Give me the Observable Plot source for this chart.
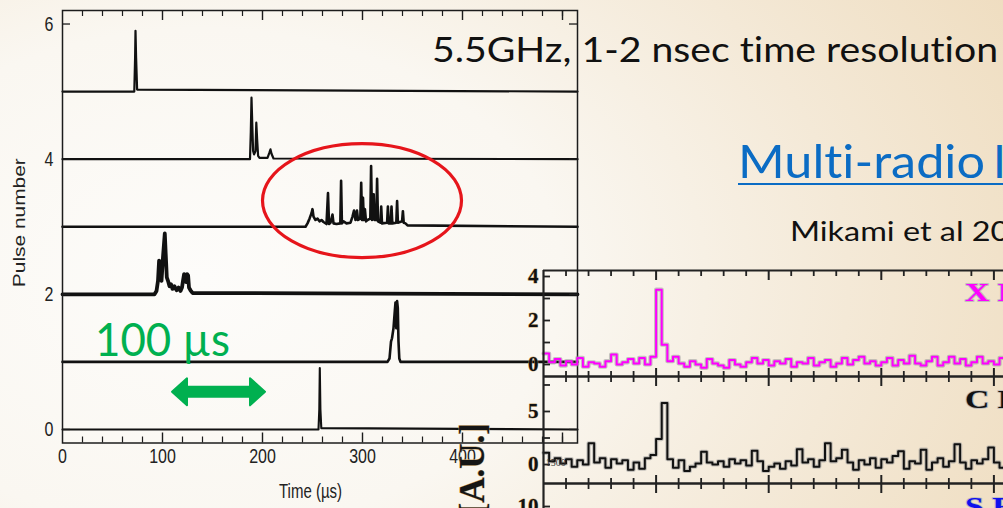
<!DOCTYPE html>
<html><head><meta charset="utf-8">
<script src="https://cdn.jsdelivr.net/npm/d3@7"></script>
<script src="https://cdn.jsdelivr.net/npm/@observablehq/plot@0.6"></script>
<style>
html,body{margin:0;padding:0;width:1003px;height:508px;overflow:hidden;}
body{position:relative;background:radial-gradient(ellipse 95% 130% at 20% 55%, #fdfcfa 0%, #faf7f1 38%, #f4e9d7 68%, #eedbbc 100%);}
.layer{position:absolute;left:0;top:0;}
#ov text{font-variant-ligatures:none;font-feature-settings:"liga" 0, "clig" 0;}
</style></head><body>
<div id="c1" class="layer"></div>
<div id="p1" class="layer" style="left:500px;top:265px"></div>
<div id="p2" class="layer" style="left:500px;top:371px"></div>
<div id="p3" class="layer" style="left:500px;top:478px"></div>
<svg id="ov" class="layer" width="1003" height="508"></svg>
<script>
// ---------------- DATA: left chart (pulse traces, offsets above each baseline) ----------------
const pulseNumbers = [5, 4, 3, 2, 1, 0];
const trace5 = [[0,0],[71.8,0],[72.6,0.5],[73.0,0.9],[73.6,0.5],[74.6,0.03],[515,0]];
const trace4 = [[0,0],[187.5,0],[188.3,0.4],[189,0.91],[189.8,0.5],[190.6,0.12],[191.6,0.07],[193,0.12],[193.8,0.54],[194.6,0.3],[195.6,0.05],[197,0.02],[205,0.02],[207,0.1],[208,0.145],[209,0.08],[211,0.01],[515,0]];
const trace3 = [[0,0],[243,0],[245,0.05],[247,0.12],[249,0.2],[250,0.26],[251,0.15],[253,0.1],[255,0.12],[257,0.08],[259,0.1],[261,0.07],[264,0.04],[265.5,0.5],[266.5,0.04],[268,0.06],[270,0.18],[271,0.05],[274,0.04],[277.8,0.05],[278.6,0.68],[279.4,0.05],[281,0.08],[284,0.05],[288,0.06],[290,0.15],[291.5,0.24],[293,0.1],[294.5,0.24],[295.5,0.1],[297.8,0.12],[298.7,0.65],[299.5,0.1],[300.5,0.43],[301.3,0.1],[302.4,0.26],[303.5,0.08],[305,0.1],[307.8,0.12],[308.6,0.9],[309.5,0.1],[311.2,0.48],[312,0.1],[313.8,0.1],[314.6,0.71],[315.5,0.08],[317.9,0.06],[318.7,0.3],[319.5,0.05],[324.6,0.06],[325.4,0.3],[326.2,0.05],[328.2,0.05],[329,0.3],[329.8,0.05],[333.8,0.06],[334.6,0.38],[335.4,0.06],[339.6,0.08],[340.4,0.23],[341.2,0.06],[343,0.05],[345,0.02],[515,0]];
const trace2 = [[0,0],[92,0],[94,0.05],[95.5,0.2],[96.6,0.5],[97.5,0.25],[99,0.2],[100.5,0.55],[102.3,0.9],[103.2,0.6],[104.3,0.25],[105.5,0.2],[107,0.12],[108.5,0.15],[110,0.08],[112,0.12],[114,0.06],[116,0.1],[118,0.05],[119.5,0.1],[120.5,0.2],[121.6,0.3],[123.6,0.18],[124.5,0.3],[125.6,0.28],[126.5,0.1],[128,0.06],[130,0.02],[515,0]];
const trace1 = [[0,0],[325,0],[327,0.05],[328.5,0.3],[329.5,0.35],[331,0.5],[332.3,0.75],[333,0.88],[333.8,0.5],[334.6,0.9],[335.3,0.8],[336,0.3],[336.8,0.05],[338,0],[515,0]];
const trace0 = [[0,0],[256,0],[256.8,0.3],[257.3,0.91],[257.9,0.3],[258.8,0.02],[515,0]];
const traces = [trace5, trace4, trace3, trace2, trace1, trace0];
const xTickLabels1 = [0, 100, 200, 300, 400];
const xMajor1 = [100, 200, 300, 400, 500];
const xMinor1 = [20,40,60,80,120,140,160,180,220,240,260,280,320,340,360,380,420,440,460,480,500];
const yTickLabels1 = [0, 2, 4, 6];
const xLabel1 = "Time (µs)";
const yLabel1 = "Pulse number";
const ellipseCenter = [300, 3.38];      // µs, pulse units
const arrowSpan = [110, 203, 0.55];     // µs from, µs to, pulse level

// ---------------- DATA: right chart (multi-radio light curves) ----------------
const step2 = 0.25;
const xBand = [0.5,0.1,0.25,-0.05,0.15,0.0,0.3,-0.1,0.1,0.05,-0.1,0.15,0.45,0.0,0.1,0.25,0.05,0.3,0.0,0.35,3.4,0.9,0.15,0.35,0.05,-0.1,0.15,0.0,-0.15,0.25,0.05,-0.05,-0.15,0.2,0.0,-0.1,0.1,0.3,0.05,0.2,-0.05,0.15,0.05,0.25,-0.1,0.1,0.05,0.3,-0.05,0.1,0.2,-0.1,0.05,0.3,0.0,0.2,0.35,0.05,0.15,-0.05,0.1,0.3,-0.05,0.2,0.05,0.4,0.05,-0.05,0.15,0.35,-0.05,0.1,0.35,0.05,0.25,-0.05,0.1,0.35,0.05,0.15,0.0,0.3,0.1];
const cBand = [1.1,0.3,0.6,0.1,0.5,-0.2,0.4,0.0,2.0,0.2,0.6,-0.3,0.5,0.1,0.4,-0.5,0.2,-0.4,0.6,0.9,2.4,5.8,0.5,-0.3,0.4,-0.6,-0.2,0.1,1.2,0.2,0.0,0.3,-0.2,0.5,0.1,0.4,-0.1,1.3,0.3,-0.6,-0.2,0.1,-0.4,0.3,-0.1,1.45,0.2,0.5,-0.2,0.4,2.0,0.3,0.6,1.4,0.2,-0.5,0.4,0.0,0.6,-0.3,0.5,0.2,0.8,1.25,-0.4,0.3,0.1,1.4,-0.5,0.2,0.6,-0.2,0.3,1.9,0.2,-0.4,0.4,0.1,0.5,1.6,0.2,-0.3,0.4];
const bandNames = ["X Band", "C Band", "S Band"];
const bandColors = ["#ff00ff", "#111111", "#1010ee"];
const x2Major = [5, 10, 15, 20];
const x2Minor = [1,2,3,4,6,7,8,9,11,12,13,14,16,17,18,19];
const yTicks2 = [[0,1,2,3,4],[0,2.5,5,7.5],[5,7.5,10]];
const yLabels2 = [[0,2,4],[0,5],[10]];
const yLabel2 = "[A.U.]";
const smallNote = "1500";

// ---------------- slide texts ----------------
const headline = "5.5GHz, 1-2 nsec time resolution";
const linkTitle = "Multi-radio";
const linkTitleRest = "I";
const citation = "Mikami et al 2016";
const scaleNote = "100 µs";

// =============== LEFT CHART ===============
const FONT = "'Liberation Sans', Arial, Helvetica, sans-serif";
const yDom1 = [-0.2, 6.2];
const k1 = (yDom1[1] - yDom1[0]) / 432.5; // units per pixel
const ink = "#1c1c1c";

function ellipseMark(index, scales) {
  const e = document.createElementNS("http://www.w3.org/2000/svg", "ellipse");
  e.setAttribute("cx", scales.x(ellipseCenter[0]));
  e.setAttribute("cy", scales.y(ellipseCenter[1]));
  e.setAttribute("rx", 99.5);
  e.setAttribute("ry", 57);
  e.setAttribute("fill", "none");
  e.setAttribute("stroke", "#e6151b");
  e.setAttribute("stroke-width", 3.2);
  return e;
}
function arrowMark(index, scales) {
  const x1 = scales.x(arrowSpan[0]), x2 = scales.x(arrowSpan[1]), cy = scales.y(arrowSpan[2]);
  const h = 15, H = 13.5, s = 5;
  const d = `M${x1},${cy}L${x1+h},${cy-H}L${x1+h},${cy-s}L${x2-h},${cy-s}L${x2-h},${cy-H}L${x2},${cy}L${x2-h},${cy+H}L${x2-h},${cy+s}L${x1+h},${cy+s}L${x1+h},${cy+H}Z`;
  const p = document.createElementNS("http://www.w3.org/2000/svg", "path");
  p.setAttribute("d", d);
  p.setAttribute("fill", "#00b050");
  p.setAttribute("stroke", "#00b050");
  p.setAttribute("stroke-width", 2);
  p.setAttribute("stroke-linejoin", "round");
  return p;
}

const widths1 = [2.2, 2.2, 2.6, 3.8, 2.6, 2.1];
const lineMarks1 = traces.map((tr, i) => Plot.line(tr, {
  x: d => d[0], y: d => pulseNumbers[i] + d[1], stroke: "#111", strokeWidth: widths1[i]
}));

const chart1 = Plot.plot({
  width: 600, height: 508,
  marginLeft: 62, marginRight: 23, marginTop: 10, marginBottom: 65.5,
  x: {domain: [0, 515], axis: null},
  y: {domain: yDom1, axis: null},
  style: `background: transparent; max-width: none; overflow: visible; font-family: ${FONT};`,
  marks: [
    ...lineMarks1,
    Plot.frame({stroke: ink, strokeWidth: 1.5}),
    Plot.ruleX(xMinor1, {y1: yDom1[1], y2: yDom1[1] - 6 * k1, stroke: ink, strokeWidth: 1.2}),
    Plot.ruleX(xMajor1, {y1: yDom1[1], y2: yDom1[1] - 10 * k1, stroke: ink, strokeWidth: 1.4}),
    Plot.ruleX(xMinor1, {y1: yDom1[0], y2: yDom1[0] + 6 * k1, stroke: ink, strokeWidth: 1.2}),
    Plot.ruleX(xMajor1, {y1: yDom1[0], y2: yDom1[0] + 10 * k1, stroke: ink, strokeWidth: 1.4}),
    Plot.ruleY(yTickLabels1, {x1: 0, x2: 8, stroke: ink, strokeWidth: 1.3}),
    Plot.ruleY(yTickLabels1, {x1: 507, x2: 515, stroke: ink, strokeWidth: 1.3}),
    Plot.text(xTickLabels1, {x: d => d, text: d => String(d), frameAnchor: "bottom", dy: 19.5, fontSize: 16, fill: "#222", ariaDescription: "stretch-v"}),
    Plot.text(yTickLabels1, {y: d => d, text: d => String(d), frameAnchor: "left", dx: -9, textAnchor: "end", fontSize: 16, fill: "#222", ariaDescription: "stretch-v"}),
    Plot.text([xLabel1], {x: 248, text: d => d, frameAnchor: "bottom", dy: 54.5, fontSize: 15, fill: "#222", ariaDescription: "stretch-v"}),
    Plot.text([yLabel1], {y: 3.06, text: d => d, frameAnchor: "left", dx: -43, rotate: -90, textAnchor: "middle", fontSize: 16, fill: "#222", ariaDescription: "stretch-len"}),
    ellipseMark,
    arrowMark
  ]
});
document.getElementById("c1").appendChild(chart1);
chart1.querySelectorAll('[aria-description="stretch-v"] text').forEach(t => {
  const tr = t.getAttribute("transform");
  if (tr) t.setAttribute("transform", tr + " scale(1,1.3)");
  else {
    const x = +t.getAttribute("x") || 0, y = +t.getAttribute("y") || 0;
    t.setAttribute("transform", `translate(${x},${y}) scale(1,1.3) translate(${-x},${-y})`);
  }
});
chart1.querySelectorAll('[aria-description="stretch-len"] text').forEach(t => {
  t.setAttribute("textLength", 129);
  t.setAttribute("lengthAdjust", "spacingAndGlyphs");
});

// =============== RIGHT CHART (three stacked panels) ===============
const SERIF = "'Liberation Serif', 'DejaVu Serif', Times, serif";
const xDom2 = [0, 460 / 22.52];
const kx2 = (xDom2[1] - xDom2[0]) / 460;
const panelDefs = [
  {el: "p1", yDom: [-0.545, 4.273], h: 116, series: xBand, color: bandColors[0], ticks: yTicks2[0], labels: yLabels2[0], bottom: true},
  {el: "p2", yDom: [-1.79, 8.3], h: 117, series: cBand, color: bandColors[1], ticks: yTicks2[1], labels: yLabels2[1], bottom: true, note: true},
  {el: "p3", yDom: [2.08, 12.17], h: 117, series: null, color: bandColors[2], ticks: yTicks2[2], labels: yLabels2[2], bottom: false}
];
panelDefs.forEach(pd => {
  const ky = (pd.yDom[1] - pd.yDom[0]) / (pd.h - 10);
  const [y0, y1] = pd.yDom;
  const marks = [];
  if (pd.series) {
    marks.push(Plot.line(pd.series, {x: (d, i) => i * step2, y: d => d, curve: "step-after", stroke: "#9a9a9a", strokeOpacity: 0.55, strokeWidth: 4.2}));
    marks.push(Plot.line(pd.series, {x: (d, i) => i * step2, y: d => d, curve: "step-after", stroke: pd.color, strokeWidth: 2}));
  }
  marks.push(
    Plot.ruleX([0], {stroke: "#222", strokeWidth: 2.2}),
    Plot.ruleY([y1], {stroke: "#222", strokeWidth: 2.2}),
    Plot.ruleX(x2Minor, {y1: y1, y2: y1 - 6 * ky, stroke: "#222", strokeWidth: 1.8}),
    Plot.ruleX(x2Major, {y1: y1, y2: y1 - 10 * ky, stroke: "#222", strokeWidth: 2}),
    Plot.ruleY(pd.ticks, {x1: 0, x2: 7 * kx2, stroke: "#222", strokeWidth: 1.8}),
    Plot.text(pd.labels, {y: d => d, text: d => String(d), frameAnchor: "left", dx: -5, textAnchor: "end", fontSize: 21, fontWeight: "bold", fontFamily: SERIF, fill: "#111", stroke: "#c9a46a", strokeWidth: 0.8, paintOrder: "stroke"})
  );
  if (pd.bottom) {
    marks.push(
      Plot.ruleY([y0], {stroke: "#222", strokeWidth: 2.2}),
      Plot.ruleX(x2Minor, {y1: y0, y2: y0 + 5 * ky, stroke: "#222", strokeWidth: 1.8}),
      Plot.ruleX(x2Major, {y1: y0, y2: y0 + 8 * ky, stroke: "#222", strokeWidth: 2})
    );
  }
  if (pd.note) {
    marks.push(Plot.text([smallNote], {x: 0.1, y: 0.2, text: d => d, textAnchor: "start", fontSize: 10, fill: "#333"}));
  }
  const svg = Plot.plot({
    width: 503, height: pd.h,
    marginLeft: 43, marginRight: 0, marginTop: 5, marginBottom: 5,
    x: {domain: xDom2, axis: null},
    y: {domain: pd.yDom, axis: null},
    style: `background: transparent; max-width: none; overflow: visible; font-family: ${SERIF};`,
    marks
  });
  document.getElementById(pd.el).appendChild(svg);
});

// =============== SLIDE TEXT OVERLAY ===============
const ov = d3.select("#ov");
const SANS = "Lato, 'Open Sans', 'Noto Sans', sans-serif";
ov.append("text").attr("x", 432).attr("y", 62).attr("font-family", SANS).attr("font-size", 34)
  .attr("fill", "#111").attr("textLength", 566).attr("lengthAdjust", "spacingAndGlyphs").text(headline);
ov.append("text").attr("x", 738).attr("y", 178).attr("font-family", SANS).attr("font-size", 46)
  .attr("fill", "#0b6cc4").attr("textLength", 247).attr("lengthAdjust", "spacingAndGlyphs").text(linkTitle);
ov.append("text").attr("x", 993).attr("y", 178).attr("font-family", SANS).attr("font-size", 46)
  .attr("fill", "#0b6cc4").text(linkTitleRest);
ov.append("line").attr("x1", 738).attr("x2", 1003).attr("y1", 184).attr("y2", 184)
  .attr("stroke", "#0b6cc4").attr("stroke-width", 2.2);
ov.append("text").attr("x", 790).attr("y", 241).attr("font-family", SANS).attr("font-size", 26)
  .attr("fill", "#111").attr("textLength", 257).attr("lengthAdjust", "spacingAndGlyphs").text(citation);
ov.append("text").attr("x", 95).attr("y", 356).attr("font-family", SANS).attr("font-size", 47)
  .attr("fill", "#00b050").attr("textLength", 135).attr("lengthAdjust", "spacingAndGlyphs").text(scaleNote);
ov.append("text").attr("transform", "translate(484,423) rotate(-90)").attr("text-anchor", "end")
  .attr("font-family", SERIF).attr("font-weight", "bold").attr("font-size", 35)
  .attr("fill", "#151515").attr("stroke", "#c9a46a").attr("stroke-width", 0.8).attr("paint-order", "stroke").text(yLabel2);
// band labels of the right chart (top-right of each panel)
const bandLabelY = [301, 408, 515];
bandNames.forEach((nm, i) => {
  ov.append("text").attr("transform", `translate(965,${bandLabelY[i]}) scale(1.35,1)`)
    .attr("font-family", SERIF).attr("font-weight", "bold").attr("font-size", 25)
    .attr("fill", bandColors[i]).attr("stroke", "#b8b8b8").attr("stroke-width", 1.6).attr("paint-order", "stroke").text(nm);
});
</script>
</body></html>
